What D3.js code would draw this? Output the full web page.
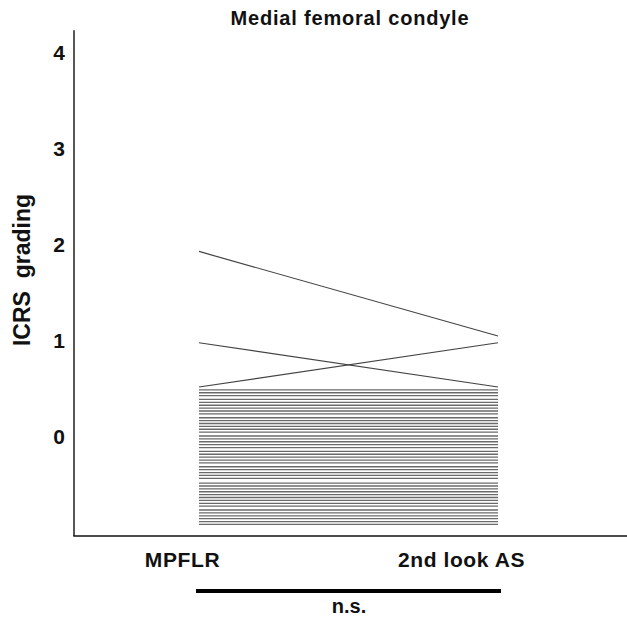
<!DOCTYPE html>
<html>
<head>
<meta charset="utf-8">
<script src="https://cdn.jsdelivr.net/npm/d3@7"></script>
<style>
  html, body { margin: 0; padding: 0; background: #fff; }
  svg { display: block; font-family: "Liberation Sans", Arial, Helvetica, sans-serif; }
</style>
</head>
<body>
<svg id="chart" width="627" height="632"></svg>
<script>
// ---- data ----
const categories = ["MPFLR", "2nd look AS"];
const yTicks = [0, 1, 2, 3, 4];
const yAxisExtent = [-1.04, 4.22];
// per-patient ICRS grading (as drawn) at MPFLR and at 2nd look AS
const mpflr = [1.92, 0.97, 0.51,
  0.48, 0.45, 0.42, 0.38, 0.35, 0.32, 0.29, 0.26, 0.23, 0.19, 0.16, 0.13, 0.10, 0.07, 0.04, 0.00,
  -0.03, -0.06, -0.09, -0.12, -0.16, -0.19, -0.22, -0.25, -0.28, -0.32, -0.35, -0.38, -0.41, -0.44,
  -0.49, -0.52, -0.55, -0.58, -0.61, -0.64, -0.67, -0.70, -0.73, -0.77, -0.80, -0.83, -0.86, -0.89, -0.92];
const secondLook = [1.04, 0.51, 0.97,
  0.48, 0.45, 0.42, 0.38, 0.35, 0.32, 0.29, 0.26, 0.23, 0.19, 0.16, 0.13, 0.10, 0.07, 0.04, 0.00,
  -0.03, -0.06, -0.09, -0.12, -0.16, -0.19, -0.22, -0.25, -0.28, -0.32, -0.35, -0.38, -0.41, -0.44,
  -0.49, -0.52, -0.55, -0.58, -0.61, -0.64, -0.67, -0.70, -0.73, -0.77, -0.80, -0.83, -0.86, -0.89, -0.92];
const title = "Medial femoral condyle";
const yLabel = "ICRS\u00a0\u00a0grading";
const significance = "n.s.";

// ---- drawing ----
const svg = d3.select("#chart");
const y = d3.scaleLinear().domain([0, 4]).range([436, 51.5]);
const x = d3.scalePoint().domain(categories).range([199, 498]);
const axisX0 = 74;

// axes lines
svg.append("line")
  .attr("x1", axisX0).attr("x2", axisX0)
  .attr("y1", y(yAxisExtent[1])).attr("y2", y(yAxisExtent[0]))
  .attr("stroke", "#111").attr("stroke-width", 1.4);
svg.append("line")
  .attr("x1", axisX0 - 0.7).attr("x2", 627)
  .attr("y1", y(yAxisExtent[0])).attr("y2", y(yAxisExtent[0]))
  .attr("stroke", "#111").attr("stroke-width", 1.6);

// y tick labels
const yAxis = svg.append("g")
  .attr("transform", `translate(${axisX0 - 9},0)`)
  .call(d3.axisLeft(y).tickValues(yTicks).tickSize(0).tickPadding(0).tickFormat(d3.format("d")));
yAxis.select(".domain").remove();
yAxis.selectAll("text")
  .attr("font-family", "Liberation Sans, Arial, sans-serif")
  .attr("font-size", 21).attr("font-weight", "bold").attr("fill", "#111")
  .attr("dy", "0.36em");

// x labels
const xAxis = svg.append("g")
  .attr("transform", `translate(0,${y(yAxisExtent[0])})`)
  .call(d3.axisBottom(x).tickSize(0).tickPadding(0));
xAxis.select(".domain").remove();
const labelShift = { "MPFLR": -17, "2nd look AS": -37 };
xAxis.selectAll("text")
  .attr("x", d => labelShift[d])
  .attr("y", 31)
  .attr("dy", 0)
  .attr("font-family", "Liberation Sans, Arial, sans-serif")
  .attr("font-size", 21).attr("font-weight", "bold").attr("fill", "#111")
  .attr("letter-spacing", 0.6);

// patient lines
const pairs = mpflr.map((v, i) => [v, secondLook[i]]);
svg.append("g").selectAll("line")
  .data(pairs)
  .join("line")
  .attr("x1", x(categories[0]))
  .attr("x2", x(categories[1]))
  .attr("y1", d => y(d[0]))
  .attr("y2", d => y(d[1]))
  .attr("stroke", (d, i) => i < 3 ? "#444" : "#6a6a6a")
  .attr("stroke-width", (d, i) => i < 3 ? 1.2 : 1.3);

// title
svg.append("text")
  .attr("x", 350).attr("y", 25)
  .attr("text-anchor", "middle")
  .attr("font-size", 20).attr("font-weight", "bold").attr("fill", "#111")
  .attr("letter-spacing", 0.8)
  .text(title);

// y label
svg.append("text")
  .attr("transform", "translate(30,270) rotate(-90)")
  .attr("text-anchor", "middle")
  .attr("font-size", 23).attr("font-weight", "bold").attr("fill", "#111")
  .text(yLabel);

// significance bar
svg.append("line")
  .attr("x1", x(categories[0]) - 3).attr("x2", x(categories[1]) + 3)
  .attr("y1", 591).attr("y2", 591)
  .attr("stroke", "#000").attr("stroke-width", 4);
svg.append("text")
  .attr("x", 349).attr("y", 613)
  .attr("text-anchor", "middle")
  .attr("font-size", 20).attr("font-weight", "bold").attr("fill", "#111")
  .text(significance);
</script>
</body>
</html>
